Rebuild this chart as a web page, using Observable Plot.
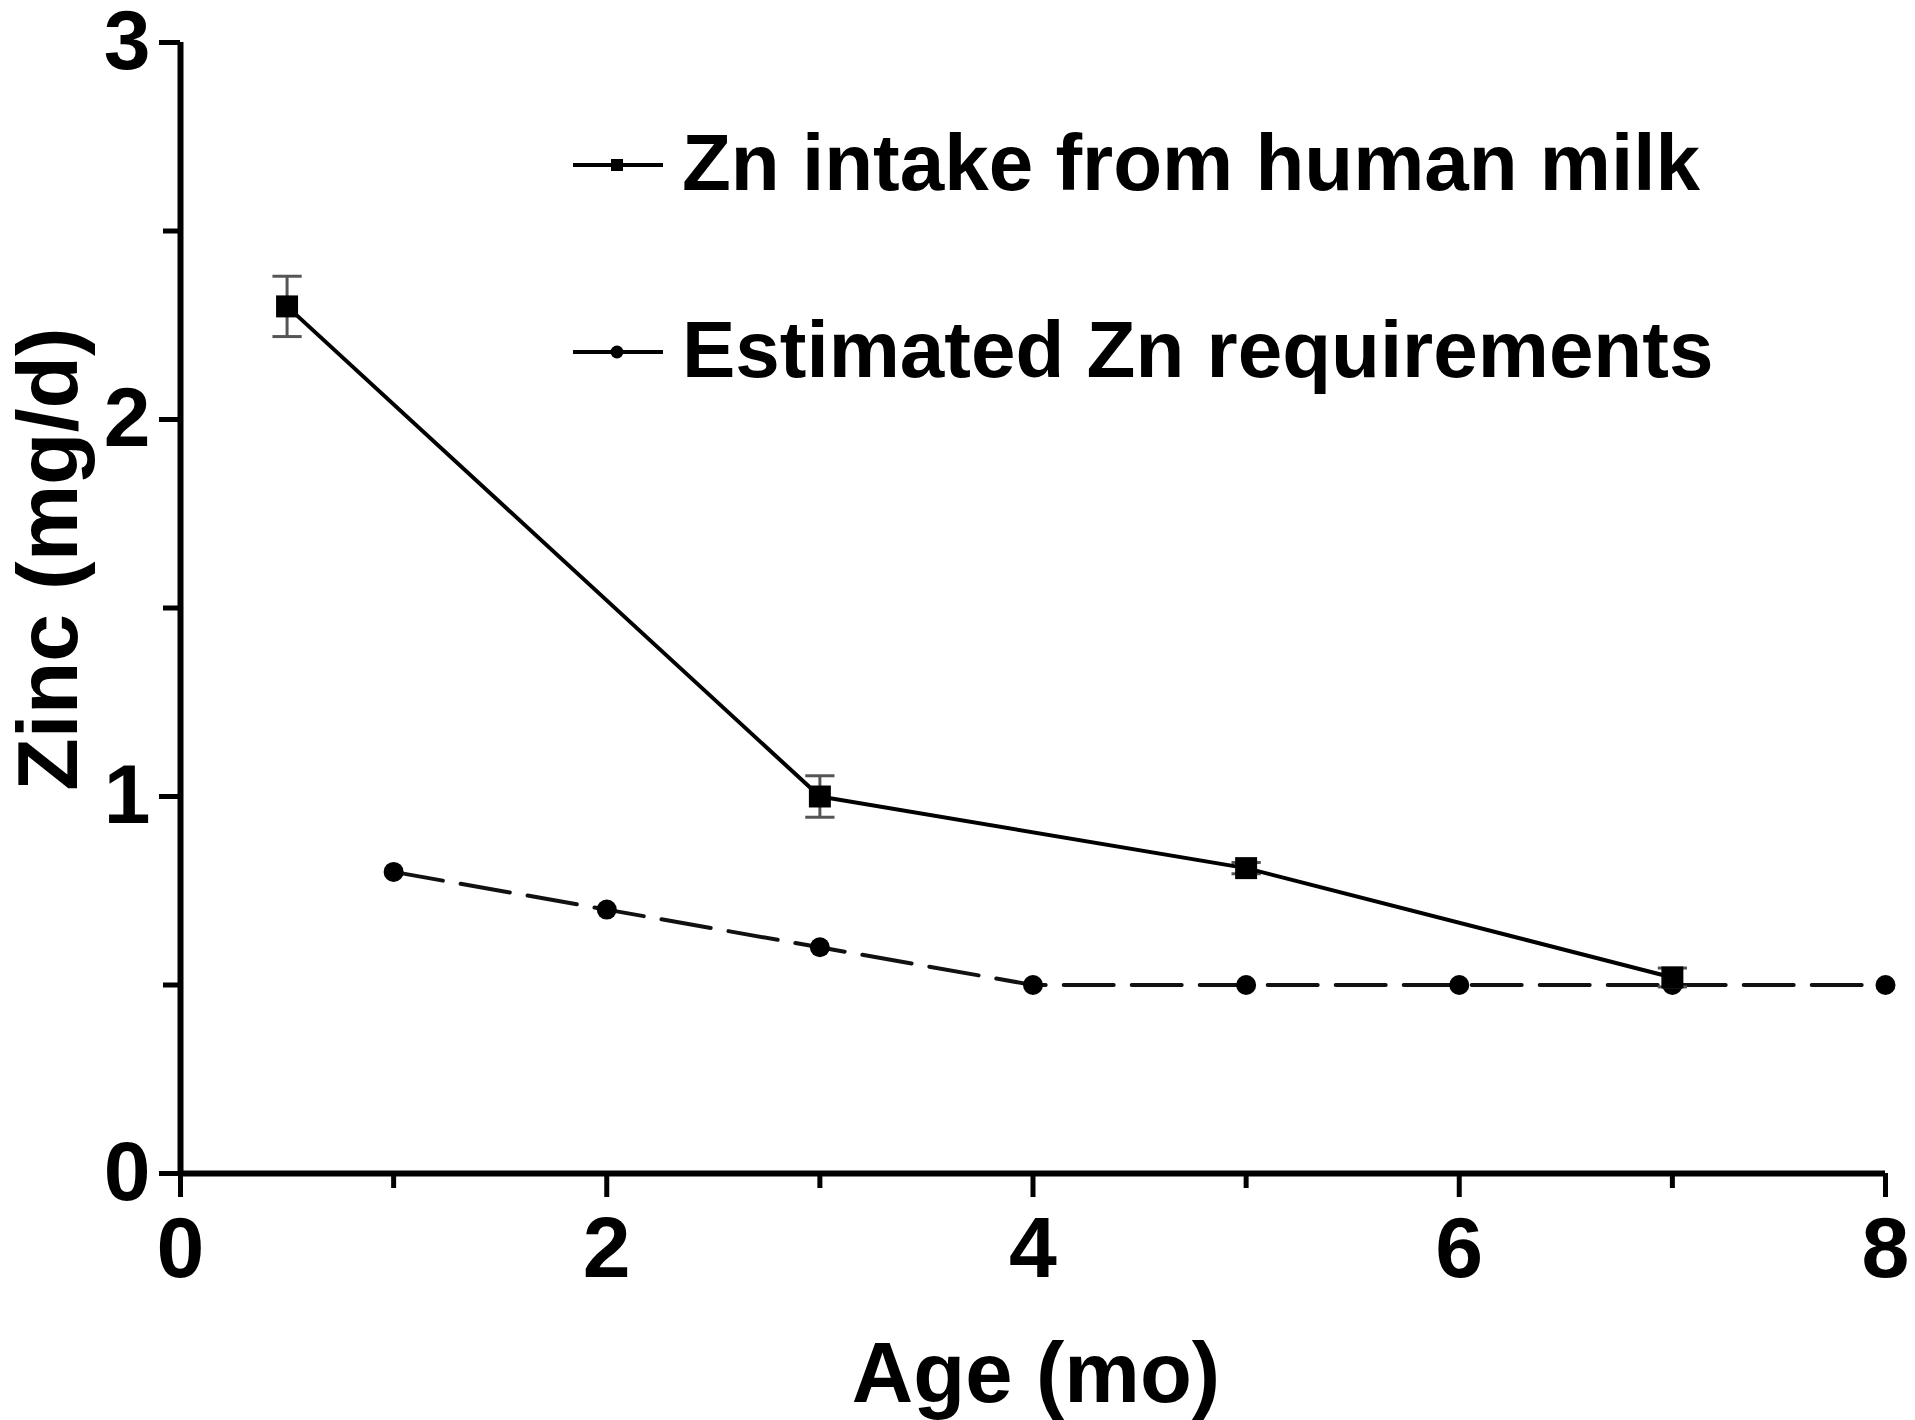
<!DOCTYPE html>
<html>
<head>
<meta charset="utf-8">
<script src="https://cdn.jsdelivr.net/npm/d3@7"></script>
<script src="https://cdn.jsdelivr.net/npm/@observablehq/plot@0.6"></script>
<style>
  html, body { margin: 0; padding: 0; background: #fff; }
  #chart { width: 1915px; height: 1420px; }
  svg { font-family: "Liberation Sans", Arial, sans-serif; }
</style>
</head>
<body>
<div id="chart"></div>
<script>
// ---- data ----
const milkAge = [0.5, 3, 5, 7];
const milkZn  = [2.30, 1.00, 0.81, 0.52];
const milkErr = [0.08, 0.055, 0.015, 0.025];

const reqAge = [1, 2, 3, 4, 5, 6, 7, 8];
const reqZn  = [0.80, 0.70, 0.60, 0.50, 0.50, 0.50, 0.50, 0.50];

const xMajorTicks = [0, 2, 4, 6, 8];
const xMinorTicks = [1, 3, 5, 7];
const yMajorTicks = [0, 1, 2, 3];
const yMinorTicks = [0.5, 1.5, 2.5];

const seriesNames = ["Zn intake from human milk", "Estimated Zn requirements"];
const xLabel = "Age (mo)";
const yLabel = "Zinc (mg/d)";

// ---- build tables ----
const milk = milkAge.map((a, i) => ({age: a, zn: milkZn[i], lo: milkZn[i] - milkErr[i], hi: milkZn[i] + milkErr[i]}));
const req = reqAge.map((a, i) => ({age: a, zn: reqZn[i]}));

const capSymbol = {
  draw(ctx, size) {
    const w = Math.sqrt(size) / 2;
    ctx.moveTo(-w, 0);
    ctx.lineTo(w, 0);
  }
};

const font = "'Liberation Sans', Arial, sans-serif";

const plot = Plot.plot({
  width: 1915,
  height: 1420,
  marginLeft: 180,
  marginRight: 30,
  marginTop: 42,
  marginBottom: 247,
  style: {fontFamily: font, background: "#fff", overflow: "visible"},
  x: {domain: [0, 8], axis: null},
  y: {domain: [0, 3], axis: null},
  marks: [
    // axes ticks
    Plot.axisX({ticks: xMajorTicks, tickSize: 24, tickPadding: 18, fontSize: 86, fontWeight: "bold", strokeWidth: 5, label: null, tickFormat: d => String(d)}),
    Plot.axisX({ticks: xMinorTicks, tickSize: 15, strokeWidth: 5, label: null, tickFormat: () => ""}),
    Plot.axisY({ticks: yMajorTicks, tickSize: 21, tickPadding: 9, fontSize: 84, fontWeight: "bold", strokeWidth: 5, label: null, tickFormat: d => String(d)}),
    Plot.axisY({ticks: yMinorTicks, tickSize: 17, strokeWidth: 5, label: null, tickFormat: () => ""}),
    Plot.ruleX([0], {stroke: "#000", strokeWidth: 6}),
    Plot.ruleY([0], {stroke: "#000", strokeWidth: 6}),
    // estimated requirements (dashed)
    Plot.line(req, {x: "age", y: "zn", stroke: "#111", strokeWidth: 4, strokeDasharray: "50 18"}),
    Plot.dot(req, {x: "age", y: "zn", r: 10, fill: "#000", stroke: "none"}),
    // milk intake (solid) with error bars
    Plot.ruleX(milk, {x: "age", y1: "lo", y2: "hi", stroke: "#555", strokeWidth: 3}),
    Plot.dot(milk, {x: "age", y: "lo", symbol: capSymbol, r: 16.5, stroke: "#555", strokeWidth: 3, fill: "none"}),
    Plot.dot(milk, {x: "age", y: "hi", symbol: capSymbol, r: 16.5, stroke: "#555", strokeWidth: 3, fill: "none"}),
    Plot.line(milk, {x: "age", y: "zn", stroke: "#000", strokeWidth: 4}),
    Plot.dot(milk, {x: "age", y: "zn", symbol: "square", r: 12.4, fill: "#000", stroke: "none"})
  ]
});

document.getElementById("chart").appendChild(plot);

// ---- axis titles and legend (inside the frame) ----
const svg = d3.select(plot);
svg.append("text")
  .attr("x", 1036).attr("y", 1402)
  .attr("text-anchor", "middle")
  .attr("font-family", font).attr("font-weight", "bold").attr("font-size", 85)
  .attr("fill", "#000")
  .text(xLabel);

svg.append("text")
  .attr("transform", "translate(77,559) rotate(-90)")
  .attr("text-anchor", "middle")
  .attr("font-family", font).attr("font-weight", "bold").attr("font-size", 86)
  .attr("fill", "#000")
  .text(yLabel);

const legend = svg.append("g");
const legendRows = [
  {name: seriesNames[0], y: 165, sym: "square", base: 190},
  {name: seriesNames[1], y: 352, sym: "circle", base: 377}
];
legendRows.forEach(r => {
  legend.append("line").attr("x1", 573).attr("x2", 663).attr("y1", r.y).attr("y2", r.y)
    .attr("stroke", "#000").attr("stroke-width", 4);
  if (r.sym === "square") {
    legend.append("rect").attr("x", 611).attr("y", r.y - 6).attr("width", 12).attr("height", 12).attr("fill", "#000");
  } else {
    legend.append("circle").attr("cx", 617).attr("cy", r.y).attr("r", 6.5).attr("fill", "#000");
  }
  legend.append("text").attr("x", 682).attr("y", r.base)
    .attr("text-anchor", "start")
    .attr("font-family", font).attr("font-weight", "bold").attr("font-size", 80)
    .attr("fill", "#000")
    .text(r.name);
});
</script>
</body>
</html>
